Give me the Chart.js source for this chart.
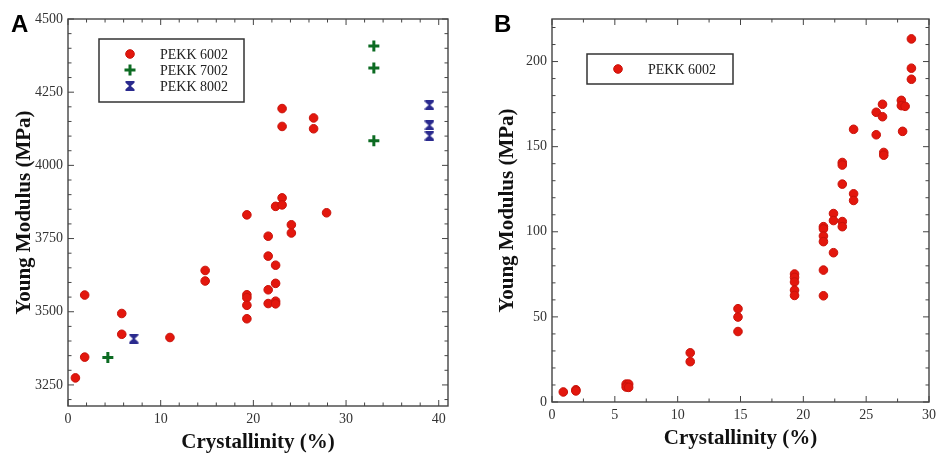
<!DOCTYPE html>
<html><head><meta charset="utf-8">
<script src="https://cdn.jsdelivr.net/npm/chart.js@4.4.0/dist/chart.umd.min.js"></script>
<style>
html,body{margin:0;padding:0;background:#fff;width:941px;height:455px;overflow:hidden}
#wa{position:absolute;left:0;top:0;width:470px;height:455px}
#wb{position:absolute;left:470px;top:0;width:471px;height:455px}
.lab{position:absolute;font:bold 24px "Liberation Sans",Arial,sans-serif;line-height:1;color:#000}
</style></head><body>
<div id="wa"><canvas id="ca" width="470" height="455"></canvas></div>
<div id="wb"><canvas id="cb" width="471" height="455"></canvas></div>
<div class="lab" style="left:11px;top:12px">A</div>
<div class="lab" style="left:494px;top:12px">B</div>
<script>
// ---------- Panel A data ----------
const a6002X = [0.8,1.8,1.8,5.8,5.8,11.0,14.8,14.8,19.3,19.3,19.3,19.3,19.3,21.6,21.6,21.6,21.6,22.4,22.4,22.4,22.4,22.4,23.1,23.1,23.1,23.1,24.1,24.1,26.5,26.5,27.9];
const a6002Y = [3274,3557,3345,3494,3423,3412,3641,3605,3831,3558,3548,3522,3476,3758,3690,3575,3528,3860,3659,3597,3536,3527,3889,3865,4194,4133,3797,3769,4162,4125,3838];
const a7002X = [4.3,33.0,33.0,33.0];
const a7002Y = [3344,4408,4333,4084];
const a8002X = [7.1,39.0,39.0,39.0];
const a8002Y = [3408,4206,4137,4101];
const aXTicks = [0,10,20,30,40];
const aYTicks = [3250,3500,3750,4000,4250,4500];

// ---------- Panel B data ----------
const b6002X = [0.9,1.9,1.9,5.9,6.1,5.9,6.1,11.0,11.0,14.8,14.8,14.8,19.3,19.3,19.3,19.3,19.3,21.6,21.6,21.6,21.6,21.6,21.6,22.4,22.4,22.4,23.1,23.1,23.1,23.1,23.1,24.0,24.0,24.0,25.8,25.8,26.3,26.3,26.4,26.4,27.8,27.8,28.1,27.9,28.6,28.6,28.6];
const b6002Y = [5.9,7.2,6.5,10.5,10.5,8.8,8.6,28.9,23.7,54.8,49.9,41.4,75.2,73.2,70.5,65.7,62.6,103,101.7,97.5,94.2,77.5,62.4,110.7,106.6,87.7,140.7,139.2,128,106,103,160.2,122.3,118.4,170.2,157,174.9,167.6,146.6,145,177.2,174.1,173.7,159,213.3,196.1,189.6];
const bXTicks = [0,5,10,15,20,25,30];
const bYTicks = [0,50,100,150,200];

const labels = ['PEKK 6002','PEKK 7002','PEKK 8002'];
const RED = '#e3170d', GREEN = '#0c6b22', BLUE = '#2a2a8e';

function pts(xs, ys){ return xs.map((x,i)=>({x:x, y:ys[i]})); }

function hourglass(color){
  const c=document.createElement('canvas'); c.width=10; c.height=10;
  const g=c.getContext('2d'); g.fillStyle=color;
  g.beginPath();
  g.moveTo(0.5,0);g.lineTo(9.5,0);g.lineTo(9.5,1.8);g.lineTo(5.9,5);g.lineTo(9.5,8.2);g.lineTo(9.5,10);
  g.lineTo(0.5,10);g.lineTo(0.5,8.2);g.lineTo(4.1,5);g.lineTo(0.5,1.8);g.closePath();g.fill();
  return c;
}
const hg = hourglass(BLUE);

const circleDs = (lab,data)=>({label:lab,data:data,pointStyle:'circle',pointRadius:4.3,pointHoverRadius:4.3,backgroundColor:RED,borderColor:'#c8120a',borderWidth:1,showLine:false});
const crossDs = (lab,data)=>({label:lab,data:data,pointStyle:'cross',pointRadius:5.5,pointHoverRadius:5.5,backgroundColor:GREEN,borderColor:GREEN,borderWidth:3,showLine:false});
const hgDs = (lab,data)=>({label:lab,data:data,pointStyle:hg,pointRadius:5,backgroundColor:BLUE,borderColor:BLUE,showLine:false});

// frame + inward ticks + boxed legend
const framePlugin = {
  id:'frame',
  beforeDatasetsDraw(chart, args, o){
    const {ctx, chartArea:a, scales} = chart;
    ctx.save();
    ctx.strokeStyle = '#444'; ctx.lineWidth = 1.4;
    ctx.strokeRect(a.left, a.top, a.right-a.left, a.bottom-a.top);
    ctx.lineWidth = 1;
    const xs = scales.x, ys = scales.y;
    const tick = (v, step)=> Math.abs(v/step - Math.round(v/step)) < 1e-6;
    for(let v = xs.min; v <= xs.max + 1e-9; v += o.xMinor){
      const vv = Math.round(v*1000)/1000;
      const L = tick(vv, o.xMajor) ? 6 : 3.5;
      const px = xs.getPixelForValue(vv);
      ctx.beginPath();
      ctx.moveTo(px, a.bottom); ctx.lineTo(px, a.bottom-L);
      ctx.moveTo(px, a.top); ctx.lineTo(px, a.top+L);
      ctx.stroke();
    }
    const y0 = Math.ceil(ys.min/o.yMinor)*o.yMinor;
    for(let v = y0; v <= ys.max + 1e-9; v += o.yMinor){
      const L = tick(v, o.yMajor) ? 6 : 3.5;
      const py = ys.getPixelForValue(v);
      ctx.beginPath();
      ctx.moveTo(a.left, py); ctx.lineTo(a.left+L, py);
      ctx.moveTo(a.right, py); ctx.lineTo(a.right-L, py);
      ctx.stroke();
    }
    ctx.restore();
  },
  afterDatasetsDraw(chart, args, o){
    const ctx = chart.ctx, lg = o.legend;
    ctx.save();
    ctx.fillStyle = '#fff';
    ctx.fillRect(lg.x1, lg.y1, lg.x2-lg.x1, lg.y2-lg.y1);
    ctx.strokeStyle = '#333'; ctx.lineWidth = 1.5;
    ctx.strokeRect(lg.x1, lg.y1, lg.x2-lg.x1, lg.y2-lg.y1);
    ctx.font = '14px "Liberation Serif", serif';
    ctx.textBaseline = 'middle'; ctx.textAlign = 'left';
    chart.data.datasets.forEach((ds, i)=>{
      const y = lg.rows[i];
      ctx.fillStyle = ds.backgroundColor; ctx.strokeStyle = ds.borderColor;
      ctx.lineWidth = ds.borderWidth || 1;
      Chart.helpers.drawPoint(ctx, {pointStyle: ds.pointStyle, radius: ds.pointRadius, borderWidth: ds.borderWidth, rotation:0}, lg.mx, y);
      ctx.fillStyle = '#222';
      ctx.fillText(ds.label, lg.tx, y+1);
    });
    ctx.restore();
  }
};

const tickFont = {family:'"Liberation Serif", serif', size:14};
const titleFont = {family:'"Liberation Serif", serif', size:21, weight:'bold'};
const plain = (v)=> String(v);

function makeOpts(cfg){
  return {
    responsive:false, animation:false, events:[],
    layout:{padding:cfg.pad},
    plugins:{legend:{display:false}, tooltip:{enabled:false}, frame:cfg.frame},
    scales:{
      x:{type:'linear', min:cfg.xMin, max:cfg.xMax,
         afterBuildTicks:(s)=>{ s.ticks = cfg.xTicks.map(v=>({value:v})); },
         afterFit:(s)=>{ s.height = cfg.xH; },
         grid:{display:false, drawTicks:false}, border:{display:false},
         ticks:{font:tickFont, color:'#333', padding:cfg.xPad, maxRotation:0, autoSkip:false, callback:plain},
         title:{display:true, text:'Crystallinity (%)', font:titleFont, color:'#111', padding:{top:0,bottom:cfg.xtPad}}},
      y:{type:'linear', min:cfg.yMin, max:cfg.yMax,
         afterBuildTicks:(s)=>{ s.ticks = cfg.yTicks.map(v=>({value:v})); },
         afterFit:(s)=>{ s.width = cfg.yW; },
         grid:{display:false, drawTicks:false}, border:{display:false},
         ticks:{font:tickFont, color:'#333', padding:5, autoSkip:false, callback:plain},
         title:{display:true, text:'Young Modulus (MPa)', font:titleFont, color:'#111', padding:{top:cfg.ytPad,bottom:0}}}
    }
  };
}

new Chart(document.getElementById('ca'), {
  type:'scatter',
  data:{datasets:[circleDs(labels[0], pts(a6002X,a6002Y)), crossDs(labels[1], pts(a7002X,a7002Y)), hgDs(labels[2], pts(a8002X,a8002Y))]},
  options: makeOpts({pad:{left:0,top:19,right:22,bottom:0}, xMin:0, xMax:41, yMin:3178, yMax:4500,
    xTicks:aXTicks, yTicks:aYTicks, xH:49, yW:68, xPad:5, xtPad:0, ytPad:12,
    frame:{xMinor:2, xMajor:10, yMinor:50, yMajor:250,
      legend:{x1:99,y1:39,x2:244,y2:102, mx:130, tx:160, rows:[54,70,86]}}}),
  plugins:[framePlugin]
});

new Chart(document.getElementById('cb'), {
  type:'scatter',
  data:{datasets:[circleDs(labels[0], pts(b6002X,b6002Y))]},
  options: makeOpts({pad:{left:0,top:19,right:5,bottom:0}, xMin:0, xMax:30, yMin:0, yMax:225,
    xTicks:bXTicks, yTicks:bYTicks, xH:53, yW:82, xPad:5, xtPad:4, ytPad:25,
    frame:{xMinor:2.5, xMajor:5, yMinor:10, yMajor:50,
      legend:{x1:117,y1:54,x2:263,y2:84, mx:148, tx:178, rows:[69]}}}),
  plugins:[framePlugin]
});
</script>
</body></html>
